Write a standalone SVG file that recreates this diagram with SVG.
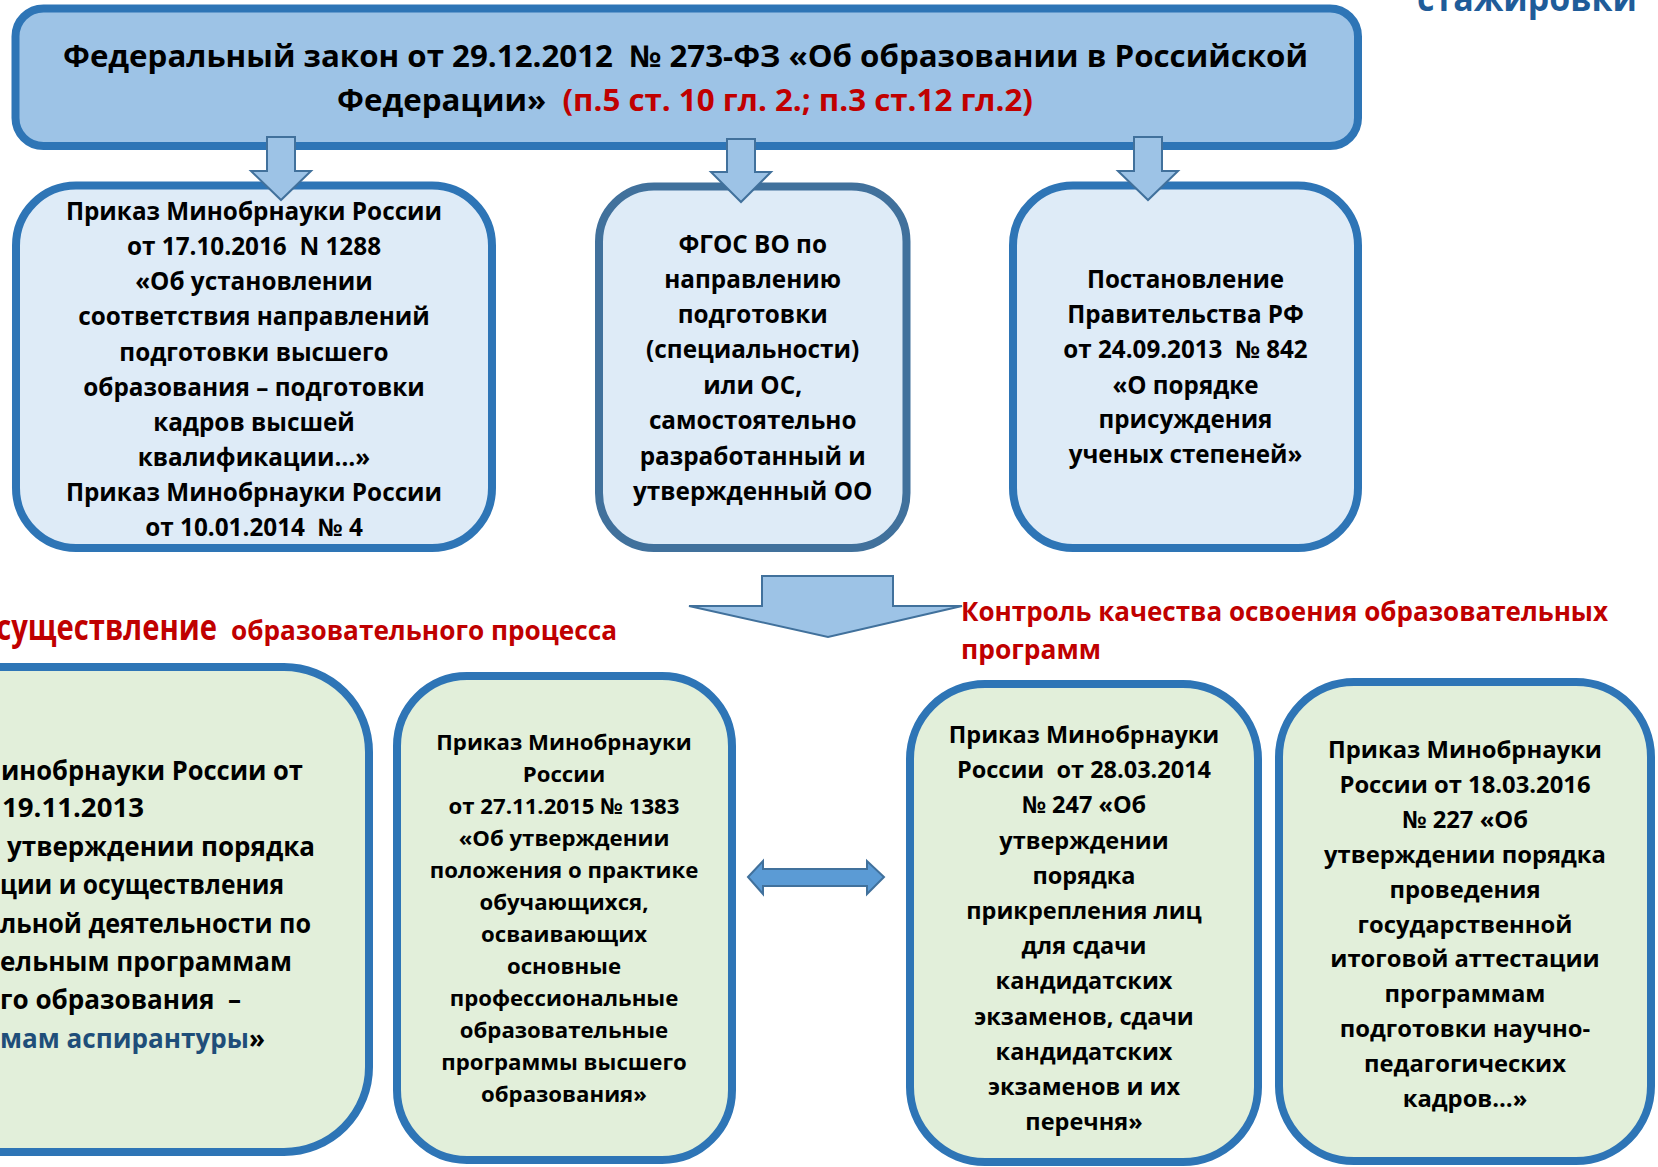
<svg xmlns="http://www.w3.org/2000/svg" width="1658" height="1167" viewBox="0 0 1658 1167">
<defs>
<style>
.t{font-family:"Open Sans","Noto Sans","Liberation Sans",sans-serif;font-weight:700;fill:#000;white-space:pre}
.c{text-anchor:middle}
.red{fill:#C00000}
.blu{fill:#1F4E79}
.top{fill:#9DC3E6;stroke:#2E75B6;stroke-width:8}
.mid{fill:#DEEBF7;stroke:#2E75B6;stroke-width:8}
.mid2{fill:#DEEBF7;stroke:#41719C;stroke-width:8}
.low{fill:#E2EFDA;stroke:#2E75B6;stroke-width:8}
.arr{fill:#9DC3E6;stroke:#41719C;stroke-width:2;stroke-linejoin:miter}
.dbl{fill:#5B9BD5;stroke:#41719C;stroke-width:2}
</style>
</defs>
<rect width="1658" height="1167" fill="#ffffff"/>

<g id="label-stazh">
<text class="t" x="1417" y="11" font-size="36" style="fill:#1F5C99" textLength="220" lengthAdjust="spacingAndGlyphs">стажировки</text>
</g>

<g id="node-law">
<rect class="top" x="15.5" y="8.5" width="1342.5" height="137.5" rx="28"/>
<text class="t" x="63" y="67" font-size="30" textLength="1245" lengthAdjust="spacingAndGlyphs">Федеральный закон от 29.12.2012  № 273-ФЗ «Об образовании в Российской</text>
<text class="t" x="337" y="111" font-size="30" textLength="696" lengthAdjust="spacingAndGlyphs">Федерации»  <tspan class="red">(п.5 ст. 10 гл. 2.; п.3 ст.12 гл.2)</tspan></text>
</g>

<g id="node-order1288">
<rect class="mid" x="16" y="185.5" width="476" height="362.5" rx="60"/>
<g font-size="24.3">
<text class="t c" x="254" y="220">Приказ Минобрнауки России</text>
<text class="t c" x="254" y="255">от 17.10.2016  N 1288</text>
<text class="t c" x="254" y="290">«Об установлении</text>
<text class="t c" x="254" y="325">соответствия направлений</text>
<text class="t c" x="254" y="360.5">подготовки высшего</text>
<text class="t c" x="254" y="395.5">образования – подготовки</text>
<text class="t c" x="254" y="430.5">кадров высшей</text>
<text class="t c" x="254" y="465.5">квалификации…»</text>
<text class="t c" x="254" y="500.5">Приказ Минобрнауки России</text>
<text class="t c" x="254" y="535.5">от 10.01.2014  № 4</text>
</g>
</g>

<g id="node-fgos">
<rect class="mid2" x="599" y="186.5" width="307.5" height="361.5" rx="55"/>
<g font-size="24.3">
<text class="t c" x="752.7" y="253">ФГОС ВО по</text>
<text class="t c" x="752.7" y="288">направлению</text>
<text class="t c" x="752.7" y="323">подготовки</text>
<text class="t c" x="752.7" y="358">(специальности)</text>
<text class="t c" x="752.7" y="394">или ОС,</text>
<text class="t c" x="752.7" y="429">самостоятельно</text>
<text class="t c" x="752.7" y="465">разработанный и</text>
<text class="t c" x="752.7" y="500">утвержденный ОО</text>
</g>
</g>

<g id="node-post842">
<rect class="mid" x="1013" y="185.5" width="345" height="362.5" rx="60"/>
<g font-size="24.2">
<text class="t c" x="1185.5" y="288">Постановление</text>
<text class="t c" x="1185.5" y="323">Правительства РФ</text>
<text class="t c" x="1185.5" y="358">от 24.09.2013  № 842</text>
<text class="t c" x="1185.5" y="394">«О порядке</text>
<text class="t c" x="1185.5" y="428">присуждения</text>
<text class="t c" x="1185.5" y="463">ученых степеней»</text>
</g>
</g>

<g id="label-process">
<text class="t red" x="-27" y="640" font-size="36" textLength="244" lengthAdjust="spacingAndGlyphs">Осуществление</text>
<text class="t red" x="231" y="640" font-size="26" textLength="386" lengthAdjust="spacingAndGlyphs">образовательного процесса</text>
</g>

<g id="label-control">
<text class="t red" x="961" y="621" font-size="26" textLength="647" lengthAdjust="spacingAndGlyphs">Контроль качества освоения образовательных</text>
<text class="t red" x="961" y="659" font-size="26" textLength="140" lengthAdjust="spacingAndGlyphs">программ</text>
</g>

<g id="node-order1259">
<rect class="low" x="-120" y="667" width="489" height="485" rx="85"/>
<g font-size="26">
<text class="t" x="1" y="780" textLength="302" lengthAdjust="spacingAndGlyphs">инобрнауки России от</text>
<text class="t" x="2" y="817" textLength="142" lengthAdjust="spacingAndGlyphs">19.11.2013</text>
<text class="t" x="7" y="856" textLength="308" lengthAdjust="spacingAndGlyphs">утверждении порядка</text>
<text class="t" x="0" y="894" textLength="284" lengthAdjust="spacingAndGlyphs">ции и осуществления</text>
<text class="t" x="0" y="933" textLength="311" lengthAdjust="spacingAndGlyphs">льной деятельности по</text>
<text class="t" x="0" y="971" textLength="292" lengthAdjust="spacingAndGlyphs">ельным программам</text>
<text class="t" x="0" y="1009" textLength="241" lengthAdjust="spacingAndGlyphs">го образования  –</text>
<text class="t" x="0" y="1048" textLength="265" lengthAdjust="spacingAndGlyphs"><tspan class="blu">мам аспирантуры</tspan>»</text>
</g>
</g>

<g id="node-order1383">
<rect class="low" x="397" y="676" width="335" height="484" rx="70"/>
<g font-size="22.2">
<text class="t c" x="564" y="750">Приказ Минобрнауки</text>
<text class="t c" x="564" y="782">России</text>
<text class="t c" x="564" y="814">от 27.11.2015 № 1383</text>
<text class="t c" x="564" y="846">«Об утверждении</text>
<text class="t c" x="564" y="878">положения о практике</text>
<text class="t c" x="564" y="910">обучающихся,</text>
<text class="t c" x="564" y="942">осваивающих</text>
<text class="t c" x="564" y="974">основные</text>
<text class="t c" x="564" y="1006">профессиональные</text>
<text class="t c" x="564" y="1038">образовательные</text>
<text class="t c" x="564" y="1070">программы высшего</text>
<text class="t c" x="564" y="1102">образования»</text>
</g>
</g>

<g id="node-order247">
<rect class="low" x="910" y="684" width="348" height="478" rx="75"/>
<g font-size="23.5">
<text class="t c" x="1084" y="743">Приказ Минобрнауки</text>
<text class="t c" x="1084" y="778">России  от 28.03.2014</text>
<text class="t c" x="1084" y="813">№ 247 «Об</text>
<text class="t c" x="1084" y="849">утверждении</text>
<text class="t c" x="1084" y="884">порядка</text>
<text class="t c" x="1084" y="919">прикрепления лиц</text>
<text class="t c" x="1084" y="954">для сдачи</text>
<text class="t c" x="1084" y="989">кандидатских</text>
<text class="t c" x="1084" y="1025">экзаменов, сдачи</text>
<text class="t c" x="1084" y="1060">кандидатских</text>
<text class="t c" x="1084" y="1095">экзаменов и их</text>
<text class="t c" x="1084" y="1130">перечня»</text>
</g>
</g>

<g id="node-order227">
<rect class="low" x="1279" y="682" width="372" height="479" rx="75"/>
<g font-size="23.8">
<text class="t c" x="1465" y="758">Приказ Минобрнауки</text>
<text class="t c" x="1465" y="793">России от 18.03.2016</text>
<text class="t c" x="1465" y="828">№ 227 «Об</text>
<text class="t c" x="1465" y="863">утверждении порядка</text>
<text class="t c" x="1465" y="898">проведения</text>
<text class="t c" x="1465" y="932.5">государственной</text>
<text class="t c" x="1465" y="967">итоговой аттестации</text>
<text class="t c" x="1465" y="1002">программам</text>
<text class="t c" x="1465" y="1037">подготовки научно-</text>
<text class="t c" x="1465" y="1072">педагогических</text>
<text class="t c" x="1465" y="1107">кадров…»</text>
</g>
</g>

<g id="connectors">
<polygon class="arr" points="267,137 295,137 295,171 311,171 281,200 251,171 267,171"/>
<polygon class="arr" points="727,139 755,139 755,172 771,172 741,202 711,172 727,172"/>
<polygon class="arr" points="1134,137 1162,137 1162,171 1178,171 1148,200 1118,171 1134,171"/>
<polygon class="arr" points="762,576 893,576 893,606 962,606 828,637 689,606 762,606"/>
<polygon class="dbl" points="748,877 763,861 763,869 867,869 867,861 884,877 867,894 867,886 763,886 763,894"/>
</g>
</svg>
